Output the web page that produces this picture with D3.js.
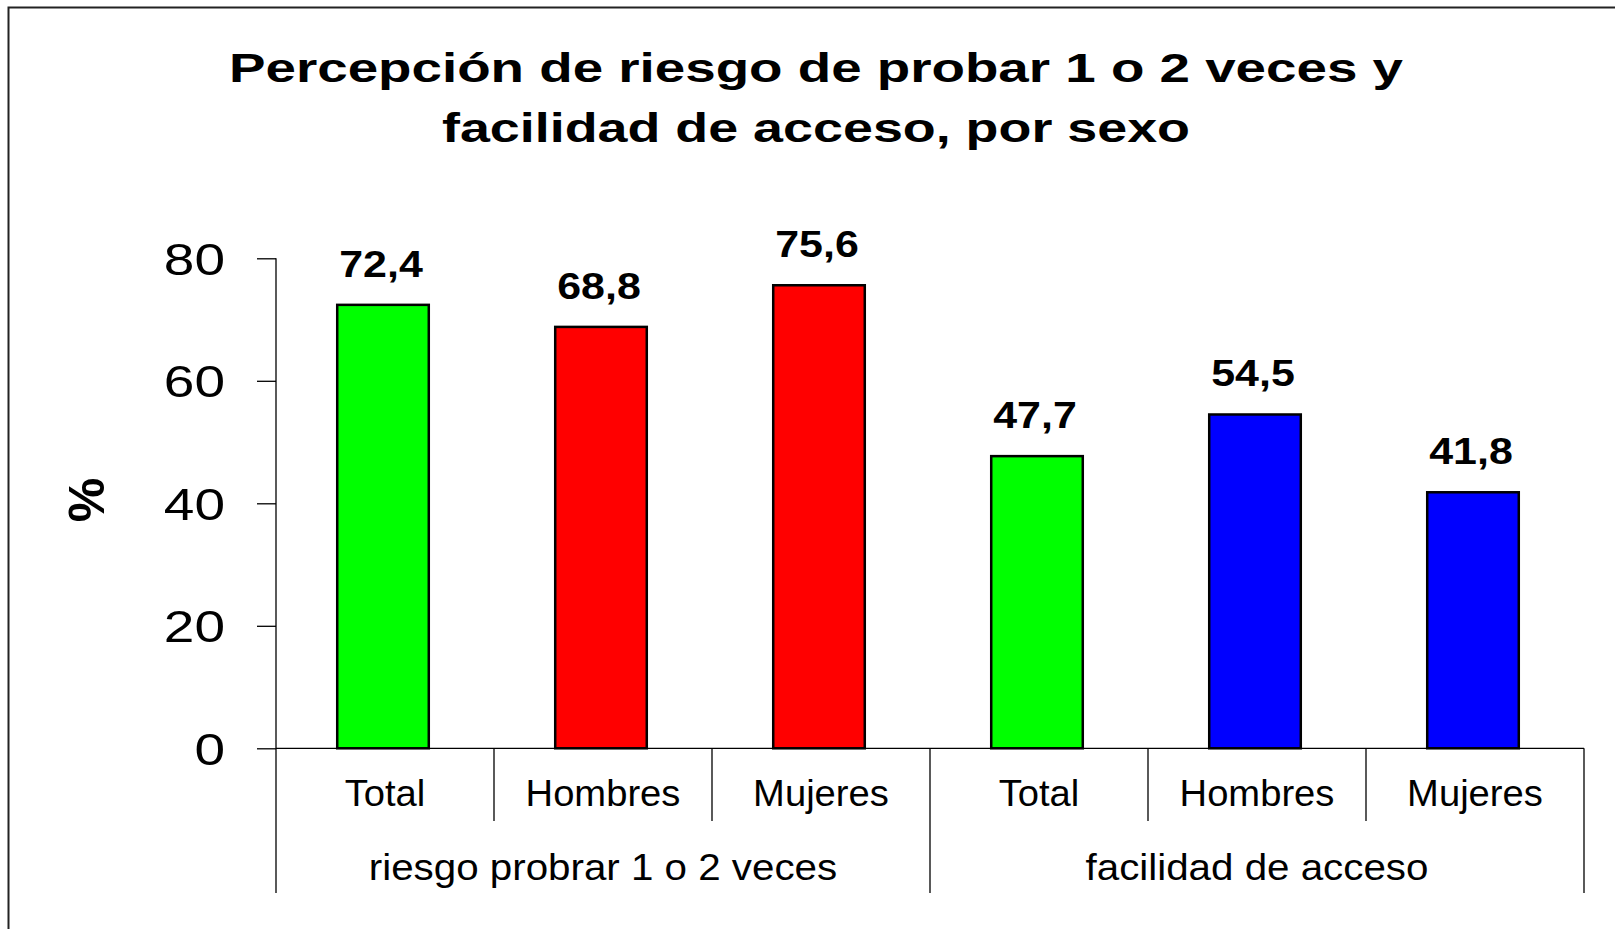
<!DOCTYPE html>
<html>
<head>
<meta charset="utf-8">
<script src="https://cdn.jsdelivr.net/npm/d3@7"></script>
<style>
html,body{margin:0;padding:0;background:#fff;}
svg{display:block;}
text{font-family:"Liberation Sans",Arial,sans-serif;fill:#000;}
</style>
</head>
<body>
<svg id="chart" width="1615" height="929"></svg>
<script>
// ---- data ----
const categories = ["Total","Hombres","Mujeres","Total","Hombres","Mujeres"];
const values = [72.4, 68.8, 75.6, 47.7, 54.5, 41.8];
const labels = ["72,4","68,8","75,6","47,7","54,5","41,8"];
const colors = ["#00ff00","#ff0000","#ff0000","#00ff00","#0000ff","#0000ff"];
const groups = ["riesgo probrar 1 o 2 veces","facilidad de acceso"];
const groupSize = [3,3];
const yTicks = [0,20,40,60,80];
const titleLines = ["Percepción de riesgo de probar 1 o 2 veces y","facilidad de acceso, por sexo"];

// ---- layout ----
const svg = d3.select("#chart");
const plotL = 276, plotR = 1584, plotT = 258.3, plotB = 748.3;

svg.append("rect").attr("x",8.5).attr("y",7.5).attr("width",1700).attr("height",1000)
  .attr("fill","none").attr("stroke","#222").attr("stroke-width",2);

function stretch(sel, k){
  sel.each(function(){
    const w = this.getComputedTextLength();
    d3.select(this).attr("textLength", w*k).attr("lengthAdjust","spacingAndGlyphs");
  });
}

const x = d3.scaleBand().domain(d3.range(categories.length)).range([plotL,plotR]).padding(0);
const y = d3.scaleLinear().domain([0,80]).range([plotB,plotT]);
const barW = x.bandwidth()*0.42;
const barShift = -2;

// title
const titleWidths = [1174, 748];
titleLines.forEach((t,i)=>{
  svg.append("text").attr("x",816).attr("y",82 + i*60)
    .attr("text-anchor","middle").attr("font-weight","bold").attr("font-size",40)
    .attr("textLength",titleWidths[i]).attr("lengthAdjust","spacingAndGlyphs")
    .text(t);
});

// y axis
const yAxis = svg.append("g").attr("transform",`translate(${plotL},0)`)
  .call(d3.axisLeft(y).tickValues(yTicks).tickSize(19).tickPadding(32).tickFormat(d3.format("d")));
yAxis.select(".domain").attr("stroke","#000").attr("stroke-width",1.3).attr("d",`M0,${plotT}V${plotB}`);
yAxis.selectAll(".tick line").attr("stroke","#000").attr("stroke-width",1.3);
yAxis.selectAll(".tick text").attr("font-size",44).attr("font-family","Liberation Sans, Arial, sans-serif")
  .attr("fill","#000").attr("dy","0.36em").call(stretch,1.25);

// y title
svg.append("text").attr("transform","translate(104,500) rotate(-90)")
  .attr("text-anchor","middle").attr("font-weight","bold").attr("font-size",50).text("%");

// bars
svg.selectAll("rect.bar").data(values).join("rect").attr("class","bar")
  .attr("x",(d,i)=>x(i)+(x.bandwidth()-barW)/2+barShift)
  .attr("y",d=>y(d)).attr("width",barW).attr("height",d=>y(0)-y(d))
  .attr("fill",(d,i)=>colors[i]).attr("stroke","#000").attr("stroke-width",2.5);

// value labels
svg.selectAll("text.val").data(values).join("text").attr("class","val")
  .attr("x",(d,i)=>x(i)+x.bandwidth()/2-4).attr("y",d=>y(d)-28)
  .attr("text-anchor","middle").attr("font-weight","bold").attr("font-size",37)
  .text((d,i)=>labels[i]).call(stretch,1.16);

// baseline axis
svg.append("line").attr("x1",plotL).attr("x2",plotR).attr("y1",plotB).attr("y2",plotB)
  .attr("stroke","#000").attr("stroke-width",1.3);

// category separators
const lineG = svg.append("g").attr("stroke","#000").attr("stroke-width",1.3);
let idx = 0;
const groupEdges = [0];
groupSize.forEach(n=>{ idx += n; groupEdges.push(idx); });
d3.range(categories.length+1).forEach(i=>{
  const xx = i<categories.length ? x(i) : plotR;
  const isGroup = groupEdges.includes(i);
  lineG.append("line").attr("x1",xx).attr("x2",xx).attr("y1",plotB).attr("y2",isGroup?893:821);
});

// category labels
svg.selectAll("text.cat").data(categories).join("text").attr("class","cat")
  .attr("x",(d,i)=>x(i)+x.bandwidth()/2).attr("y",806)
  .attr("text-anchor","middle").attr("font-size",36).text(d=>d).call(stretch,1.06);

// group labels
svg.selectAll("text.grp").data(groups).join("text").attr("class","grp")
  .attr("x",(d,i)=>{const a=x(groupEdges[i]); const b=groupEdges[i+1]<categories.length?x(groupEdges[i+1]):plotR; return (a+b)/2;})
  .attr("y",880).attr("text-anchor","middle").attr("font-size",36).text(d=>d).call(stretch,1.12);
</script>
</body>
</html>
